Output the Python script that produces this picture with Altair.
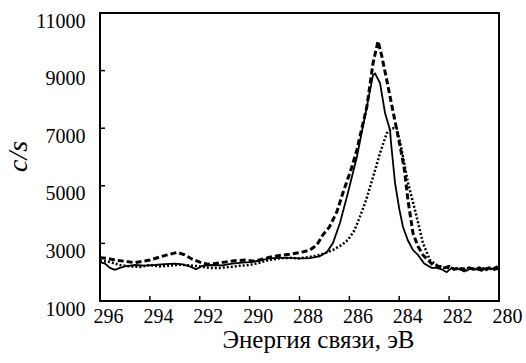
import altair as alt
import pandas as pd

# Dashed (thick) curve
dash_E = [296.0, 295.7, 295.4, 295.0, 294.6, 294.3, 294.0, 293.6, 293.3, 292.9, 292.6, 292.3,
          292.0, 291.7, 291.4, 291.0, 290.6, 290.2, 289.8, 289.5, 289.2, 288.8, 288.4, 288.0,
          287.6, 287.3, 287.06, 286.8, 286.5, 286.26, 285.9, 285.7, 285.5, 285.3, 285.05, 284.85,
          284.7, 284.5, 284.3, 284.1, 283.95, 283.8, 283.65, 283.45, 283.25, 283.05, 282.85,
          282.65, 282.4, 282.2, 282.0, 281.8, 281.6, 281.4, 281.2, 281.0, 280.8, 280.6, 280.4,
          280.2, 280.0]
dash_C = [2500, 2480, 2420, 2380, 2330, 2380, 2420, 2530, 2600, 2690, 2600, 2450,
          2350, 2280, 2300, 2350, 2400, 2420, 2380, 2450, 2520, 2580, 2620, 2680,
          2760, 2950, 3300, 3570, 4100, 4750, 5650, 6240, 7000, 7740, 9260, 10020,
          9500, 8670, 7800, 6940, 6300, 5600, 4500, 3360, 2900, 2600, 2420,
          2250, 2200, 2150, 2200, 2100, 2150, 2050, 2150, 2100, 2150, 2050, 2150,
          2100, 2150]

# Solid curve
solid_E = [296.0, 295.8, 295.6, 295.4, 295.2, 295.0, 294.6, 294.2, 293.8, 293.4, 293.0, 292.7,
           292.4, 292.15, 291.9, 291.5, 291.1, 290.7, 290.3, 290.0, 289.6, 289.2, 288.8, 288.4,
           288.0, 287.6, 287.2, 286.9, 286.66, 286.38, 286.06, 285.7, 285.3, 285.05, 284.97,
           284.77, 284.57, 284.37, 284.33, 284.25, 284.17, 284.0, 283.85, 283.65, 283.45, 283.25,
           283.0, 282.7, 282.5, 282.3, 282.1, 281.9, 281.7, 281.5, 281.3, 281.1, 280.9, 280.7,
           280.5, 280.3, 280.1, 280.0]
solid_C = [2350, 2300, 2150, 2080, 2150, 2200, 2250, 2230, 2250, 2280, 2300, 2270,
           2200, 2100, 2220, 2250, 2240, 2300, 2330, 2350, 2400, 2480, 2500, 2500,
           2480, 2490, 2550, 2700, 3010, 3700, 4750, 6000, 7740, 8850, 8900,
           8570, 7530, 6940, 6500, 5800, 5100, 4200, 3570, 3100, 2770, 2600,
           2300, 2150, 2150, 2100, 2000, 2150, 2100, 2150, 2050, 2150, 2100, 2050,
           2150, 2100, 2200, 2050]

# Dotted curve
dot_E = [296.0, 295.6, 295.2, 294.8, 294.4, 294.0, 293.6, 293.2, 292.8, 292.4, 292.0, 291.6,
         291.2, 290.8, 290.4, 290.0, 289.6, 289.2, 288.8, 288.4, 288.0, 287.58, 287.1, 286.66,
         286.3, 286.06, 285.8, 285.58, 285.35, 285.17, 284.95, 284.77, 284.5, 284.3, 284.1,
         283.9, 283.65, 283.3, 283.05, 282.77, 282.5, 282.2, 281.9, 281.6, 281.3, 281.0,
         280.7, 280.4, 280.0]
dot_C = [2400, 2350, 2250, 2200, 2180, 2250, 2200, 2230, 2260, 2240, 2200, 2150,
         2150, 2180, 2220, 2250, 2330, 2430, 2480, 2500, 2480, 2530, 2620, 2770,
         2950, 3120, 3450, 3920, 4450, 4960, 5600, 6140, 6830, 7000, 7000,
         6240, 5100, 3920, 3010, 2420, 2250, 2150, 2150, 2100, 2150, 2100,
         2150, 2100, 2150]

x_ticks = [296, 294, 292, 290, 288, 286, 284, 282, 280]
y_ticks = [1000, 3000, 5000, 7000, 9000, 11000]

FONT = "Liberation Serif"

df = pd.concat([
    pd.DataFrame({"E": dash_E, "C": dash_C, "s": "dash"}),
    pd.DataFrame({"E": solid_E, "C": solid_C, "s": "solid"}),
    pd.DataFrame({"E": dot_E, "C": dot_C, "s": "dot"}),
])

xscale = alt.Scale(domain=[280, 296], reverse=True, nice=False, zero=False)
yscale = alt.Scale(domain=[1000, 11000], nice=False, zero=False)

xaxis = alt.Axis(values=x_ticks, format="d", title="Энергия связи, эВ", ticks=False, domain=False,
                 grid=False, labelFont=FONT, labelFontSize=20, labelColor="black", labelPadding=5,
                 labelOffset=8, labelFlush=False,
                 titleFont=FONT, titleFontSize=25, titleFontWeight="normal", titleColor="black",
                 titleX=218, titleY=46, titleBaseline="alphabetic", titleAlign="center")
yaxis = alt.Axis(values=y_ticks, format="d", title="c/s", ticks=False, domain=False, grid=False,
                 labelFont=FONT, labelFontSize=20, labelColor="black", labelPadding=15,
                 labelOffset=8, labelFlush=False, labelBaseline="middle",
                 titleFont=FONT, titleFontSize=28, titleFontStyle="italic", titleFontWeight="normal",
                 titleColor="black", titleAngle=270, titleX=-74, titleY=143,
                 titleBaseline="alphabetic", titleAlign="center")

base = alt.Chart(df).encode(
    x=alt.X("E:Q", scale=xscale, axis=xaxis),
    y=alt.Y("C:Q", scale=yscale, axis=yaxis),
)

solid = base.transform_filter(alt.datum.s == "solid").mark_line(
    color="black", strokeWidth=1.8)
dashed = base.transform_filter(alt.datum.s == "dash").mark_line(
    color="black", strokeWidth=3, strokeDash=[6, 3])
dotted = base.transform_filter(alt.datum.s == "dot").mark_line(
    color="black", strokeWidth=2.5, strokeDash=[2, 2])

xt = alt.Chart(pd.DataFrame({"E": x_ticks})).mark_rule(color="black", strokeWidth=1.5).encode(
    x=alt.X("E:Q", scale=xscale, axis=xaxis), y=alt.value(288), y2=alt.value(283))
yt = alt.Chart(pd.DataFrame({"C": y_ticks})).mark_rule(color="black", strokeWidth=1.5).encode(
    y=alt.Y("C:Q", scale=yscale, axis=yaxis), x=alt.value(0), x2=alt.value(5))

chart = alt.layer(dotted, dashed, solid, xt, yt).properties(
    width=399, height=288,
    autosize=alt.AutoSizeParams(type="none"),
    padding={"left": 100, "top": 13, "right": 27, "bottom": 62},
    background="white",
).configure_view(stroke="black", strokeWidth=2)

chart.save("out.html", embed_options={"renderer": "svg", "actions": False})
